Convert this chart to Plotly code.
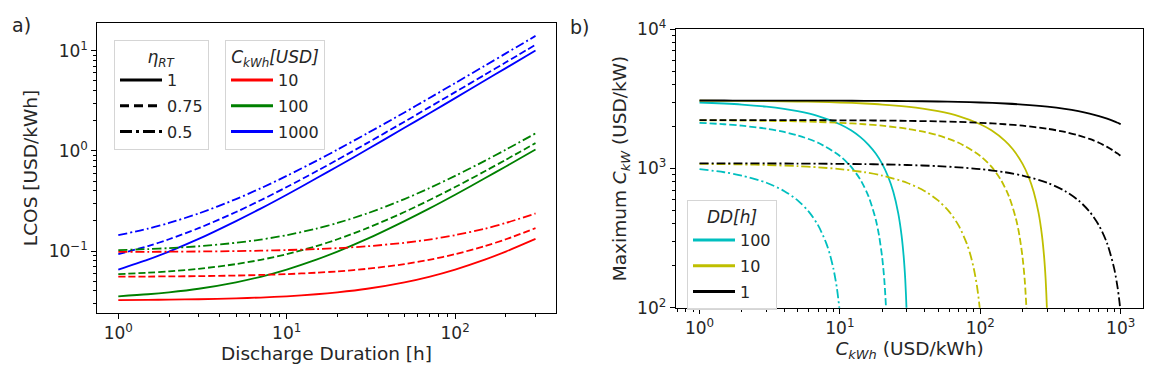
import plotly.graph_objects as go

# ---------------- Panel a) data: LCOS vs discharge duration ----------------
duration_h = [1, 1.5, 2, 3, 5, 7, 10, 15, 20, 30, 50, 70, 100, 150, 200, 300]

# eta_RT = 1
lcos_c10_e100 = [0.0323, 0.0325, 0.0327, 0.0330, 0.0337, 0.0343, 0.0353, 0.0370, 0.0387, 0.0420, 0.0487, 0.0553, 0.0653, 0.0820, 0.0987, 0.132]
lcos_c100_e100 = [0.0353, 0.0370, 0.0387, 0.0420, 0.0487, 0.0553, 0.0653, 0.082, 0.0987, 0.132, 0.199, 0.265, 0.365, 0.532, 0.698, 1.03]
lcos_c1000_e100 = [0.0653, 0.082, 0.0987, 0.132, 0.199, 0.265, 0.365, 0.532, 0.698, 1.03, 1.70, 2.36, 3.36, 5.03, 6.70, 10.03]
# eta_RT = 0.75
lcos_c10_e075 = [0.0554, 0.0556, 0.0558, 0.0561, 0.0569, 0.0577, 0.0588, 0.0607, 0.0626, 0.0664, 0.074, 0.0816, 0.093, 0.112, 0.131, 0.169]
lcos_c100_e075 = [0.0588, 0.0607, 0.0626, 0.0664, 0.074, 0.0816, 0.093, 0.112, 0.131, 0.169, 0.245, 0.321, 0.435, 0.625, 0.815, 1.195]
lcos_c1000_e075 = [0.093, 0.112, 0.131, 0.169, 0.245, 0.321, 0.435, 0.625, 0.815, 1.195, 1.955, 2.715, 3.855, 5.755, 7.655, 11.455]
# eta_RT = 0.5
lcos_c10_e050 = [0.098, 0.0982, 0.0984, 0.0989, 0.0998, 0.1008, 0.1022, 0.1045, 0.1068, 0.1115, 0.1208, 0.130, 0.144, 0.167, 0.1905, 0.237]
lcos_c100_e050 = [0.1022, 0.1045, 0.1068, 0.1115, 0.1208, 0.130, 0.144, 0.167, 0.1905, 0.237, 0.330, 0.423, 0.5625, 0.795, 1.028, 1.493]
lcos_c1000_e050 = [0.144, 0.167, 0.1905, 0.237, 0.330, 0.423, 0.5625, 0.795, 1.028, 1.493, 2.42, 3.35, 4.75, 7.07, 9.4, 14.05]

# ---------------- Panel b) data: maximum C_kW vs C_kWh ----------------
ckwh_dd1 = [1, 1.5, 2, 3, 5, 7, 10, 15, 20, 30, 50, 70, 100, 150, 200, 300, 400, 500, 600, 700, 800, 900, 950, 980, 1000]
ckw_dd1_e100 = [3079, 3078.5, 3078, 3077, 3075, 3073, 3070, 3065, 3060, 3050, 3030, 3010, 2980, 2930, 2880, 2780, 2680, 2580, 2480, 2380, 2280, 2180, 2130, 2100, 2080]
ckw_dd1_e075 = [2229, 2228.5, 2228, 2227, 2225, 2223, 2220, 2215, 2210, 2200, 2180, 2160, 2130, 2080, 2030, 1930, 1830, 1730, 1630, 1530, 1430, 1330, 1280, 1250, 1230]
ckw_dd1_e050 = [1089, 1088.5, 1088, 1087, 1085, 1083, 1080, 1075, 1070, 1060, 1040, 1020, 990, 940, 890, 790, 690, 590, 490, 390, 290, 190, 140, 110, 90]

ckwh_dd10_e100 = [1, 1.5, 2, 3, 5, 7, 10, 15, 20, 30, 40, 50, 70, 100, 120, 150, 170, 200, 220, 240, 260, 275, 285, 292, 298, 302]
ckw_dd10_e100 = [3070, 3065, 3060, 3050, 3030, 3010, 2980, 2930, 2880, 2780, 2680, 2580, 2380, 2080, 1880, 1580, 1380, 1080, 880, 680, 480, 330, 230, 160, 100, 60]
ckwh_dd10_e075 = [1, 1.5, 2, 3, 5, 7, 10, 15, 20, 30, 40, 50, 70, 100, 120, 140, 160, 180, 190, 200, 207, 213, 217]
ckw_dd10_e075 = [2220, 2215, 2210, 2200, 2180, 2160, 2130, 2080, 2030, 1930, 1830, 1730, 1530, 1230, 1030, 830, 630, 430, 330, 230, 160, 100, 60]
ckwh_dd10_e050 = [1, 1.5, 2, 3, 5, 7, 10, 15, 20, 30, 40, 50, 60, 70, 80, 85, 90, 95, 99, 102]
ckw_dd10_e050 = [1080, 1075, 1070, 1060, 1040, 1020, 990, 940, 890, 790, 690, 590, 490, 390, 290, 240, 190, 140, 100, 70]

ckwh_dd100_e100 = [1, 1.5, 2, 3, 4, 5, 7, 10, 12, 14, 16, 18, 20, 22, 24, 26, 27.5, 28.5, 29.2, 29.8, 30.2]
ckw_dd100_e100 = [2980, 2930, 2880, 2780, 2680, 2580, 2380, 2080, 1880, 1680, 1480, 1280, 1080, 880, 680, 480, 330, 230, 160, 100, 60]
ckwh_dd100_e075 = [1, 1.5, 2, 3, 4, 5, 7, 10, 12, 14, 16, 18, 19, 20, 20.7, 21.3, 21.7]
ckw_dd100_e075 = [2130, 2080, 2030, 1930, 1830, 1730, 1530, 1230, 1030, 830, 630, 430, 330, 230, 160, 100, 60]
ckwh_dd100_e050 = [1, 1.5, 2, 3, 4, 5, 6, 7, 8, 8.5, 9, 9.5, 9.9, 10.2]
ckw_dd100_e050 = [990, 940, 890, 790, 690, 590, 490, 390, 290, 240, 190, 140, 100, 70]

# legend labels
eta_labels = ["1", "0.75", "0.5"]
ckwh_labels = ["10", "100", "1000"]
dd_labels = ["100", "10", "1"]

# tick labels
left_x_tickvals = [1, 10, 100]
left_x_ticktext = ["10<sup>0</sup>", "10<sup>1</sup>", "10<sup>2</sup>"]
left_y_tickvals = [0.1, 1, 10]
left_y_ticktext = ["10<sup>\u22121</sup>", "10<sup>0</sup>", "10<sup>1</sup>"]
right_x_tickvals = [1, 10, 100, 1000]
right_x_ticktext = ["10<sup>0</sup>", "10<sup>1</sup>", "10<sup>2</sup>", "10<sup>3</sup>"]
right_y_tickvals = [100, 1000, 10000]
right_y_ticktext = ["10<sup>2</sup>", "10<sup>3</sup>", "10<sup>4</sup>"]

# ---------------- styles ----------------
RED, GREEN, BLUE = "#ff0000", "#008000", "#0000ff"
CYAN, YELLOW, BLACK = "#00bfbf", "#bfbf00", "#000000"
DASH = {"1": "solid", "0.75": "7px,3px", "0.5": "9px,3px,2px,3px"}
LW = 1.8
FONT = "DejaVu Sans"
TXT = "#262626"

fig = go.Figure()

def add_line(x, y, color, dash, xa, ya):
    fig.add_trace(go.Scatter(x=x, y=y, mode="lines", xaxis=xa, yaxis=ya,
                             line=dict(color=color, width=LW, dash=dash,
                                       shape="spline", smoothing=0.8),
                             showlegend=False, hoverinfo="skip"))

# panel a curves
left_sets = [
    ("1", [(lcos_c10_e100, RED), (lcos_c100_e100, GREEN), (lcos_c1000_e100, BLUE)]),
    ("0.75", [(lcos_c10_e075, RED), (lcos_c100_e075, GREEN), (lcos_c1000_e075, BLUE)]),
    ("0.5", [(lcos_c10_e050, RED), (lcos_c100_e050, GREEN), (lcos_c1000_e050, BLUE)]),
]
for eta, series in left_sets:
    for y, col in series:
        add_line(duration_h, y, col, DASH[eta], "x", "y")

# panel b curves
right_sets = [
    (ckwh_dd100_e100, ckw_dd100_e100, CYAN, "1"),
    (ckwh_dd100_e075, ckw_dd100_e075, CYAN, "0.75"),
    (ckwh_dd100_e050, ckw_dd100_e050, CYAN, "0.5"),
    (ckwh_dd10_e100, ckw_dd10_e100, YELLOW, "1"),
    (ckwh_dd10_e075, ckw_dd10_e075, YELLOW, "0.75"),
    (ckwh_dd10_e050, ckw_dd10_e050, YELLOW, "0.5"),
    (ckwh_dd1, ckw_dd1_e100, BLACK, "1"),
    (ckwh_dd1, ckw_dd1_e075, BLACK, "0.75"),
    (ckwh_dd1, ckw_dd1_e050, BLACK, "0.5"),
]
for x, y, col, eta in right_sets:
    add_line(x, y, col, DASH[eta], "x2", "y2")

# legend entries
LEG_DASH = {"1": "solid", "0.75": "9px,5px", "0.5": "12px,4px,3px,4px"}
for i, lab in enumerate(eta_labels):
    fig.add_trace(go.Scatter(x=[None], y=[None], mode="lines", xaxis="x", yaxis="y",
                             line=dict(color=BLACK, width=3, dash=LEG_DASH[lab]),
                             name=lab, legend="legend", legendgroup="e%d" % i))
for i, (lab, col) in enumerate(zip(ckwh_labels, [RED, GREEN, BLUE])):
    fig.add_trace(go.Scatter(x=[None], y=[None], mode="lines", xaxis="x", yaxis="y",
                             line=dict(color=col, width=3), name=lab, legend="legend2",
                             legendgroup="c%d" % i))
for i, (lab, col) in enumerate(zip(dd_labels, [CYAN, YELLOW, BLACK])):
    fig.add_trace(go.Scatter(x=[None], y=[None], mode="lines", xaxis="x2", yaxis="y2",
                             line=dict(color=col, width=3), name=lab, legend="legend3",
                             legendgroup="d%d" % i))

# page is shown with an 8px body margin: convert page pixels to paper fractions
OFF = 8
W, H = 1163 - 2 * OFF, 387 - 2 * OFF
def px(v):
    return (v - OFF) / W
def py(v):
    return 1 - (v - OFF) / H

def minor_vals(lo, hi):
    out = []
    for e in range(lo, hi + 1):
        for m in range(2, 10):
            out.append(m * 10 ** e)
    return out

axis_common = dict(type="log", showgrid=False, zeroline=False, showline=True, mirror=True,
                   linecolor="black", linewidth=1, ticks="outside", ticklen=5, tickwidth=1,
                   tickcolor="black", tickmode="array", automargin=False,
                   tickfont=dict(family=FONT, size=17, color=TXT),
                   title_font=dict(family=FONT, size=18.5, color=TXT))

leg_common = dict(bgcolor="rgba(255,255,255,0.85)", bordercolor="#d5d5d5", borderwidth=1,
                  font=dict(family=FONT, size=16, color=TXT), traceorder="grouped",
                  xanchor="left", yanchor="top", itemwidth=42, tracegroupgap=2)

minor_style = dict(ticks="outside", ticklen=3, tickcolor="black", tickwidth=1)

fig.update_layout(
    width=W, height=H, paper_bgcolor="white", plot_bgcolor="white",
    margin=dict(l=0, r=0, t=0, b=0, autoexpand=False),
    xaxis=dict(axis_common, domain=[px(97.3), px(555.7)], range=[-0.1247, 2.597], anchor="y",
               tickvals=left_x_tickvals, ticktext=left_x_ticktext,
               minor=dict(minor_style, tickvals=minor_vals(0, 2)),
               title=dict(text="Discharge Duration [h]", standoff=4)),
    yaxis=dict(axis_common, domain=[py(312.7), py(23.3)], range=[-1.616, 1.2735], anchor="x",
               tickvals=left_y_tickvals, ticktext=left_y_ticktext,
               minor=dict(minor_style, tickvals=minor_vals(-2, 1)),
               title=dict(text="LCOS [USD/kWh]", standoff=6)),
    xaxis2=dict(axis_common, domain=[px(675.7), px(1143.3)], range=[-0.1695, 3.161], anchor="y2",
                tickvals=right_x_tickvals, ticktext=right_x_ticktext,
                minor=dict(minor_style, tickvals=minor_vals(-1, 3)),
                title=dict(text="<i>C</i><sub><i>kWh</i></sub> (USD/kWh)", standoff=4)),
    yaxis2=dict(axis_common, domain=[py(307.7), py(29.3)], range=[2, 4], anchor="x2",
                tickvals=right_y_tickvals, ticktext=right_y_ticktext,
                minor=dict(minor_style, tickvals=minor_vals(2, 3)),
                title=dict(text="Maximum <i>C</i><sub><i>kW</i></sub> (USD/kW)", standoff=5)),
    legend=dict(leg_common, x=px(114), y=py(40),
                title=dict(text="<i>\u03b7</i><sub><i>RT</i></sub>", side="top center",
                           font=dict(family=FONT, size=17, color=TXT))),
    legend2=dict(leg_common, x=px(225), y=py(40),
                 title=dict(text="<i>C</i><sub><i>kWh</i></sub><i>[USD]</i>", side="top center",
                            font=dict(family=FONT, size=17, color=TXT))),
    legend3=dict(leg_common, x=px(687), y=py(200),
                 title=dict(text="<i>DD[h]</i>", side="top center",
                            font=dict(family=FONT, size=17, color=TXT))),
    annotations=[
        dict(text="a)", x=px(21), y=py(25), xref="paper", yref="paper", xanchor="center",
             yanchor="middle", showarrow=False, font=dict(family=FONT, size=19, color=TXT)),
        dict(text="b)", x=px(579), y=py(27), xref="paper", yref="paper", xanchor="center",
             yanchor="middle", showarrow=False, font=dict(family=FONT, size=19, color=TXT)),
    ],
)

fig.write_html("out.html")
